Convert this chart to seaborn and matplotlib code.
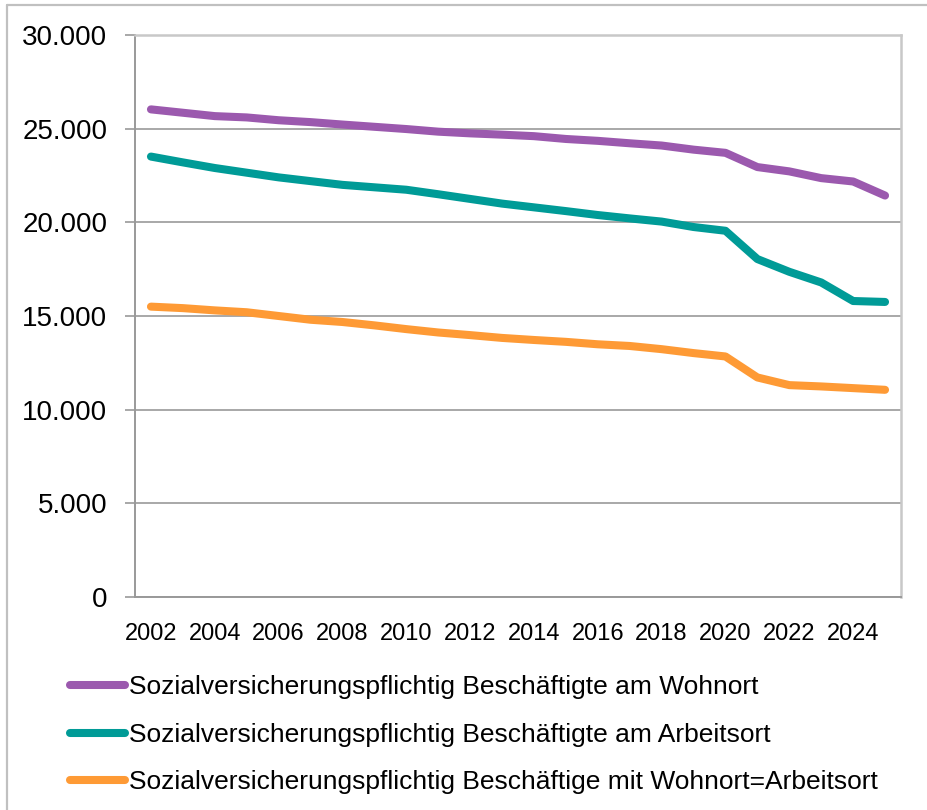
import matplotlib
matplotlib.use("Agg")
import matplotlib.pyplot as plt
from matplotlib.lines import Line2D
from matplotlib.ticker import FuncFormatter
import pandas as pd
import seaborn as sns

years = list(range(2002, 2026))

wohnort = [26030, 25850, 25670, 25600, 25450, 25350, 25220, 25100, 24980, 24840,
           24750, 24680, 24600, 24450, 24350, 24220, 24100, 23880, 23710, 22950,
           22720, 22360, 22180, 21430]
arbeitsort = [23510, 23200, 22900, 22650, 22400, 22200, 22000, 21870, 21740, 21500,
              21250, 21000, 20800, 20600, 20390, 20210, 20040, 19750, 19550, 18040,
              17360, 16790, 15800, 15750]
beide = [15500, 15420, 15300, 15200, 15000, 14800, 14680, 14500, 14300, 14120,
         13980, 13830, 13720, 13620, 13490, 13400, 13230, 13020, 12840, 11720,
         11310, 11240, 11150, 11060]

labels = ["Sozialversicherungspflichtig Beschäftigte am Wohnort",
          "Sozialversicherungspflichtig Beschäftigte am Arbeitsort",
          "Sozialversicherungspflichtig Beschäftige mit Wohnort=Arbeitsort"]
colors = ["#9b59ae", "#009b97", "#fe9a35"]

sns.set_style("white")
plt.rcParams['font.family'] = ['Liberation Sans', 'DejaVu Sans']
plt.rcParams['text.color'] = 'black'
plt.rcParams['xtick.labelcolor'] = 'black'
plt.rcParams['ytick.labelcolor'] = 'black'

fig = plt.figure(figsize=(9.28, 8.10), dpi=100)
ax = fig.add_axes([135/928, 1-597/810, (901-135)/928, (597-35)/810])

for vals, lab, col in zip([wohnort, arbeitsort, beide], labels, colors):
    df = pd.DataFrame({'Jahr': years, 'Wert': vals})
    sns.lineplot(data=df, x='Jahr', y='Wert', ax=ax, color=col, label=lab,
                 linewidth=5.8, solid_capstyle='round', legend=False)

ax.set_xlim(years[0]-0.5, years[-1]+0.5)
ax.set_ylim(0, 30000)
ax.set_xlabel('')
ax.set_ylabel('')

ax.set_xticks(years[::2])
ax.set_xticks([y-0.5 for y in years] + [years[-1]+0.5], minor=True)
ax.tick_params(axis='x', which='major', length=0, labelsize=17, pad=19, labelcolor='black')
ax.tick_params(axis='x', which='minor', length=6, width=1.2, color='#999999', direction='out')
ax.set_yticks(range(0, 30001, 5000))
ax.yaxis.set_major_formatter(FuncFormatter(lambda v, p: f"{int(v):,}".replace(",", ".")))
ax.tick_params(axis='y', length=7, width=1.2, color='#999999', labelsize=20, pad=13,
               left=True, labelcolor='black')

ax.grid(axis='y', color='#999999', linewidth=1.2)
ax.set_axisbelow(True)
for s in ['left', 'bottom']:
    ax.spines[s].set_color('#999999')
    ax.spines[s].set_linewidth(1.4)
for s in ['top', 'right']:
    ax.spines[s].set_color('#c8c8c8')
    ax.spines[s].set_linewidth(1.8)

handles, labs = ax.get_legend_handles_labels()
fig.legend(handles, labs, loc='upper left', bbox_to_anchor=(70/928, 1-675/810),
           frameon=False, fontsize=19, handlelength=2.1, handletextpad=0.12,
           labelspacing=0.9, borderpad=0, borderaxespad=0, labelcolor='black')

fig.add_artist(Line2D([7/928, 7/928], [0, 1-5/810], color='#c0c0c0', linewidth=1.6))
fig.add_artist(Line2D([7/928, 1], [1-5/810, 1-5/810], color='#c0c0c0', linewidth=1.6))

fig.savefig('out.png', dpi=100)
